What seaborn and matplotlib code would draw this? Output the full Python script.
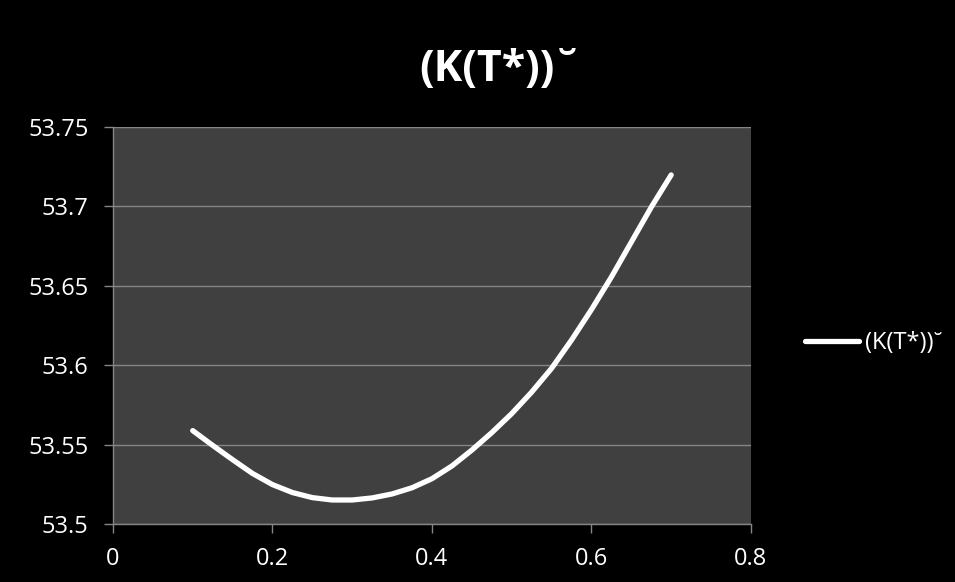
import numpy as np
import pandas as pd
import matplotlib
matplotlib.use("Agg")
import matplotlib.pyplot as plt
import seaborn as sns

# values (every 0.025 along T*)
t_star = [0.100, 0.125, 0.150, 0.175, 0.200, 0.225, 0.250, 0.275, 0.300,
          0.325, 0.350, 0.375, 0.400, 0.425, 0.450, 0.475, 0.500, 0.525,
          0.550, 0.575, 0.600, 0.625, 0.650, 0.675, 0.700]
k_vals = [53.5588, 53.5495, 53.5405, 53.5318, 53.5248, 53.5198, 53.5166, 53.5151, 53.5151,
          53.5164, 53.5189, 53.5228, 53.5285, 53.5365, 53.5465, 53.5575, 53.5695, 53.5830,
          53.5980, 53.6158, 53.6350, 53.6555, 53.6775, 53.6995, 53.7198]
x_ticks = [0, 0.2, 0.4, 0.6, 0.8]
y_ticks = [53.5, 53.55, 53.6, 53.65, 53.7, 53.75]
y_labels = ["53.5", "53.55", "53.6", "53.65", "53.7", "53.75"]
series_name = "(K(T*))\u02d8"

df = pd.DataFrame({"t": t_star, "k": k_vals})

sns.set_style("dark")
plt.rcParams["font.family"] = ["Open Sans", "DejaVu Sans"]

fig = plt.figure(figsize=(9.55, 5.82), dpi=100, facecolor="black")
ax = fig.add_axes([0.1183, 0.0997, 0.668, 0.6821])
ax.set_facecolor("#404040")

sns.lineplot(data=df, x="t", y="k", ax=ax, color="white", linewidth=3.8,
             label=series_name, solid_capstyle="round", solid_joinstyle="round")

ax.set_xlim(0, 0.8)
ax.set_ylim(53.5, 53.75)
ax.set_xticks(x_ticks)
ax.set_xticklabels([f"{v:g}" for v in x_ticks])
ax.set_yticks(y_ticks)
ax.set_yticklabels(y_labels)
ax.set_xlabel("")
ax.set_ylabel("")

ax.grid(axis="y", color="#858585", linewidth=1.0)
ax.grid(axis="x", visible=False)
for s in ["top", "right"]:
    ax.spines[s].set_visible(False)
for s in ["left", "bottom"]:
    ax.spines[s].set_color("#858585")
    ax.spines[s].set_linewidth(1.0)
ax.tick_params(axis="both", colors="#858585", labelcolor="white", labelsize=17,
               length=6.5, width=1, direction="out", bottom=True, left=True)
ax.tick_params(axis="x", pad=10)
ax.tick_params(axis="y", pad=11)

fig.text(0.524, 0.88, series_name, color="white", fontsize=31, fontweight="bold",
         ha="center", va="center")

leg = ax.legend(loc="center left", bbox_to_anchor=(0.843, 0.4107),
                bbox_transform=fig.transFigure, frameon=False, borderpad=0,
                borderaxespad=0, fontsize=17, handlelength=2.3, handletextpad=0.25,
                labelcolor="white")

fig.savefig("out.png", dpi=100, facecolor="black")
